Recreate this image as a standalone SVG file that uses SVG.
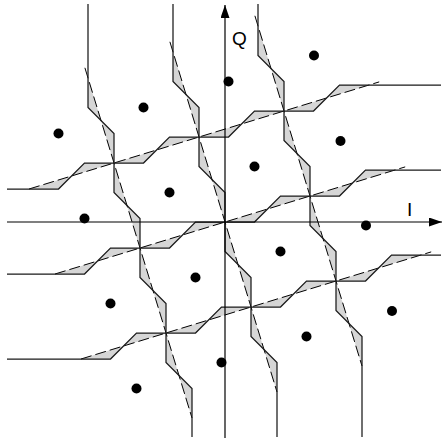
<svg xmlns="http://www.w3.org/2000/svg" width="443" height="439" viewBox="0 0 443 439">
  <defs>
    <marker id="arrow" markerUnits="userSpaceOnUse" markerWidth="14" markerHeight="10" refX="13" refY="4.5" orient="auto">
      <path d="M0,0 L13,4.5 L0,9 z" fill="#000"/>
    </marker>
  </defs>
  <style>
    .shade { fill: #d6d6d6; stroke: none; }
    .dash { fill: none; stroke: #000; stroke-width: 1; stroke-dasharray: 11 4; }
    .stair { fill: none; stroke: #1a1a1a; stroke-width: 1.25; stroke-linejoin: miter; }
    .axis { stroke: #000; stroke-width: 1.2; fill: none; }
    .dot { fill: #000; }
    .lbl { font-family: "Liberation Sans", Arial, sans-serif; font-size: 19px; fill: #000; }
  </style>
  <rect width="443" height="439" fill="#fff"/>

  <g id="shading">
    <polygon class="shade" points="29,189 58.5,189 84.5,163 143.5,163 169.5,137 228.5,137 254.5,111 313.5,111 339.5,85 369,85"/>
    <polygon class="shade" points="55,274 84.5,274 110.5,248 169.5,248 195.5,222 254.5,222 280.5,196 339.5,196 365.5,170 395,170"/>
    <polygon class="shade" points="81,359 110.5,359 136.5,333 195.5,333 221.5,307 280.5,307 306.5,281 365.5,281 391.5,255 421,255"/>
    <polygon class="shade" points="88,78 88,107.5 114,133.5 114,192.5 140,218.5 140,277.5 166,303.5 166,362.5 192,388.5 192,418"/>
    <polygon class="shade" points="173,52 173,81.5 199,107.5 199,166.5 225,192.5 225,251.5 251,277.5 251,336.5 277,362.5 277,392"/>
    <polygon class="shade" points="258,26 258,55.5 284,81.5 284,140.5 310,166.5 310,225.5 336,251.5 336,310.5 362,336.5 362,366"/>
  </g>

  <g id="connectors">
    <g id="dashed-boundaries">
      <line class="dash" x1="29" y1="189" x2="379.2" y2="81.9"/>
      <line class="dash" x1="55" y1="274" x2="405.2" y2="166.9"/>
      <line class="dash" x1="81" y1="359" x2="431.2" y2="251.9"/>
      <line class="dash" x1="84.9" y1="67.8" x2="192" y2="418"/>
      <line class="dash" x1="169.9" y1="41.8" x2="277" y2="392"/>
      <line class="dash" x1="254.9" y1="15.8" x2="362" y2="366"/>
    </g>
    <g id="staircase-boundaries">
      <polyline class="stair" points="7,189 58.5,189 84.5,163 143.5,163 169.5,137 228.5,137 254.5,111 313.5,111 339.5,85 441,85"/>
      <polyline class="stair" points="7,274 84.5,274 110.5,248 169.5,248 195.5,222 254.5,222 280.5,196 339.5,196 365.5,170 441,170"/>
      <polyline class="stair" points="7,359 110.5,359 136.5,333 195.5,333 221.5,307 280.5,307 306.5,281 365.5,281 391.5,255 441,255"/>
      <polyline class="stair" points="88,4 88,107.5 114,133.5 114,192.5 140,218.5 140,277.5 166,303.5 166,362.5 192,388.5 192,437"/>
      <polyline class="stair" points="173,4 173,81.5 199,107.5 199,166.5 225,192.5 225,251.5 251,277.5 251,336.5 277,362.5 277,437"/>
      <polyline class="stair" points="258,4 258,55.5 284,81.5 284,140.5 310,166.5 310,225.5 336,251.5 336,310.5 362,336.5 362,437"/>
    </g>
  </g>

  <g id="axes">
    <line id="axis-I" class="axis" x1="7" y1="222" x2="442" y2="222" marker-end="url(#arrow)"/>
    <line id="axis-Q" class="axis" x1="225" y1="438" x2="225" y2="5" marker-end="url(#arrow)"/>
    <text id="label-Q" class="lbl" x="232" y="45">Q</text>
    <text id="label-I" class="lbl" x="407" y="216">I</text>
  </g>

  <g id="points">
    <circle id="p1" class="dot" cx="58.5" cy="133.5" r="5"/>
    <circle id="p2" class="dot" cx="143.5" cy="107.5" r="5"/>
    <circle id="p3" class="dot" cx="228.5" cy="81.5" r="5"/>
    <circle id="p4" class="dot" cx="314" cy="55.5" r="5"/>
    <circle id="p5" class="dot" cx="84.5" cy="218.5" r="5"/>
    <circle id="p6" class="dot" cx="169.5" cy="192.5" r="5"/>
    <circle id="p7" class="dot" cx="254.5" cy="166.5" r="5"/>
    <circle id="p8" class="dot" cx="340.5" cy="141" r="5"/>
    <circle id="p9" class="dot" cx="110.5" cy="303.5" r="5"/>
    <circle id="p10" class="dot" cx="195.5" cy="277.5" r="5"/>
    <circle id="p11" class="dot" cx="280.5" cy="251.5" r="5"/>
    <circle id="p12" class="dot" cx="366" cy="225.5" r="5"/>
    <circle id="p13" class="dot" cx="136.5" cy="388.5" r="5"/>
    <circle id="p14" class="dot" cx="221.5" cy="362.5" r="5"/>
    <circle id="p15" class="dot" cx="306.5" cy="336.5" r="5"/>
    <circle id="p16" class="dot" cx="392" cy="311" r="5"/>
  </g>
</svg>
